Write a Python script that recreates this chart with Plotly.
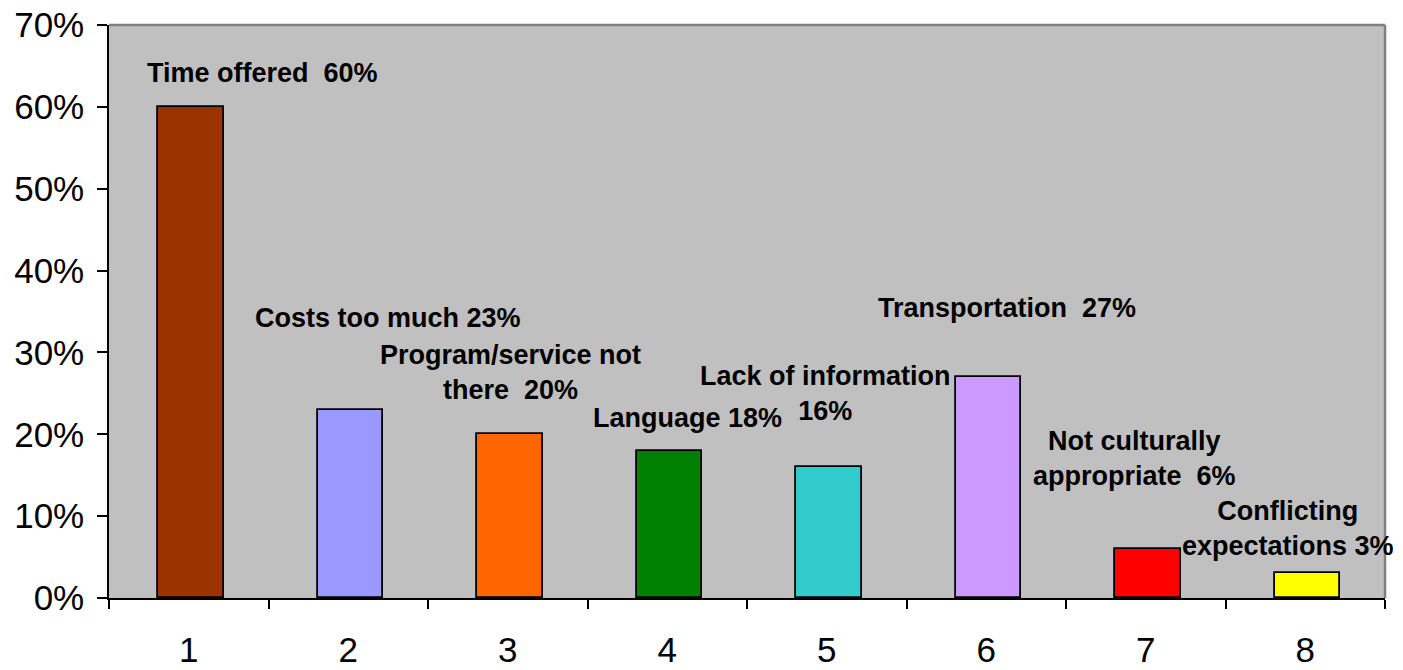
import plotly.graph_objects as go

# Barriers to participation, share of respondents
categories = [1, 2, 3, 4, 5, 6, 7, 8]
values = [60, 23, 20, 18, 16, 27, 6, 3]
bar_colors = ["#993300", "#9999FF", "#FF6600", "#008000",
              "#33CCCC", "#CC99FF", "#FF0000", "#FFFF00"]
labels = ["Time offered  60%", "Costs too much 23%", "Program/service not<br>there  20%",
          "Language 18%", "Lack of information<br>16%", "Transportation  27%",
          "Not culturally<br>appropriate  6%", "Conflicting<br>expectations 3%"]
# label anchor positions (x in category units, y in percent)
label_x = [1.46, 2.25, 3.02, 4.13, 4.99, 6.13, 6.93, 7.89]
label_y = [64.1, 34.2, 27.5, 22.0, 25.0, 35.4, 17.0, 8.5]
y_ticks = [0, 10, 20, 30, 40, 50, 60, 70]

font_family = "Arial, Liberation Sans, sans-serif"

fig = go.Figure()
fig.add_trace(go.Bar(
    x=categories, y=values, width=0.41, offset=-0.19,
    marker=dict(color=bar_colors, line=dict(color="black", width=1.8)),
    hoverinfo="skip",
))

for lx, ly, txt in zip(label_x, label_y, labels):
    fig.add_annotation(x=lx, y=ly, text=f"<b>{txt}</b>", showarrow=False,
                       xanchor="center", yanchor="middle",
                       font=dict(family=font_family, size=27, color="black"))

# gray frame on the top and right of the plotting area
fig.add_shape(type="line", xref="paper", yref="paper", x0=0, x1=1, y0=1, y1=1,
              line=dict(color="#808080", width=2.5))
fig.add_shape(type="line", xref="paper", yref="paper", x0=1, x1=1, y0=0, y1=1,
              line=dict(color="#808080", width=2.5))

fig.update_layout(
    width=1403, height=670,
    margin=dict(l=109, r=18, t=25, b=72, autoexpand=False),
    paper_bgcolor="white", plot_bgcolor="#C0C0C0",
    showlegend=False,
    bargap=0,
    font=dict(family=font_family, color="black"),
)
fig.update_xaxes(
    range=[0.5, 8.5], tickvals=categories, ticktext=[str(c) for c in categories],
    ticks="", showgrid=False, zeroline=False, automargin=False,
    showline=True, linecolor="black", linewidth=1.5,
    tickfont=dict(size=35, family=font_family), ticklabelstandoff=20,
    minor=dict(tickvals=[c - 0.5 for c in categories] + [8.5], ticks="outside",
               ticklen=9, tickcolor="black", tickwidth=1.5, showgrid=False),
)
fig.update_yaxes(
    range=[0, 70], tickvals=y_ticks, ticktext=[f"{v}%" for v in y_ticks],
    ticks="outside", ticklen=10, tickcolor="black", tickwidth=1.5,
    showgrid=False, zeroline=False, automargin=False,
    showline=True, linecolor="black", linewidth=1.5,
    tickfont=dict(size=35, family=font_family), ticklabelstandoff=6,
)

fig.write_html("out.html")
